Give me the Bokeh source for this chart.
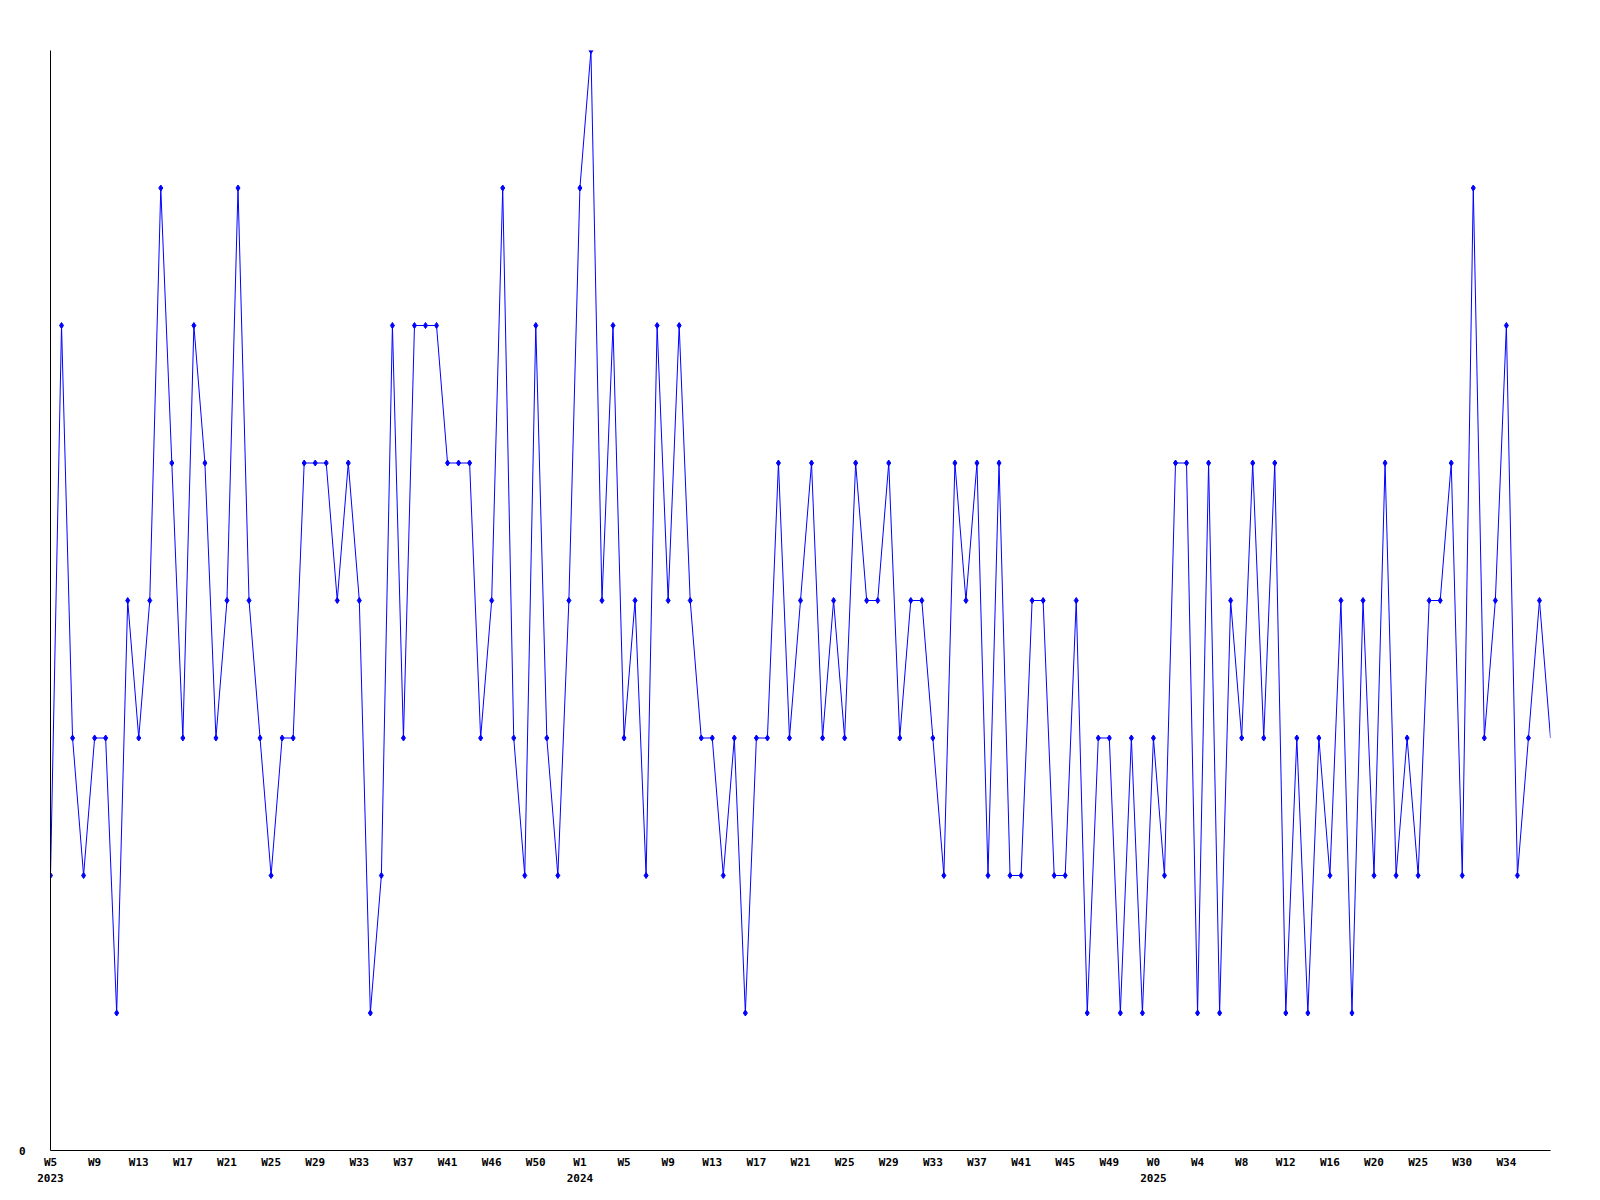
from bokeh.plotting import figure
from bokeh.models import Range1d, LinearAxis, FixedTicker, ColumnDataSource
from bokeh.embed import file_html
from bokeh.resources import INLINE

values = [2, 6, 3, 2, 3, 3, 1, 4, 3, 4, 7, 5, 3, 6, 5, 3, 4, 7, 4, 3,
          2, 3, 3, 5, 5, 5, 4, 5, 4, 1, 2, 6, 3, 6, 6, 6, 5, 5, 5, 3,
          4, 7, 3, 2, 6, 3, 2, 4, 7, 8, 4, 6, 3, 4, 2, 6, 4, 6, 4, 3,
          3, 2, 3, 1, 3, 3, 5, 3, 4, 5, 3, 4, 3, 5, 4, 4, 5, 3, 4, 4,
          3, 2, 5, 4, 5, 2, 5, 2, 2, 4, 4, 2, 2, 4, 1, 3, 3, 1, 3, 1,
          3, 2, 5, 5, 1, 5, 1, 4, 3, 5, 3, 5, 1, 3, 1, 3, 2, 4, 1, 4,
          2, 5, 2, 3, 2, 4, 4, 5, 2, 7, 3, 4, 6, 2, 3, 4, 3]
idx = list(range(len(values)))

week_labels = ["W5", "W9", "W13", "W17", "W21", "W25", "W29", "W33", "W37", "W41",
               "W46", "W50", "W1", "W5", "W9", "W13", "W17", "W21", "W25", "W29",
               "W33", "W37", "W41", "W45", "W49", "W0", "W4", "W8", "W12", "W16",
               "W20", "W25", "W30", "W34"]
week_ticks = list(range(0, 4 * len(week_labels), 4))
year_labels = ["2023", "2024", "2025"]
year_ticks = [0, 48, 100]

FONT = "DejaVu Sans Mono"

p = figure(frame_width=1500, frame_height=1100, output_backend="svg",
           toolbar_location=None, x_axis_type=None, y_axis_type=None,
           min_border_left=50, min_border_top=50, min_border_right=34,
           min_border_bottom=34)
p.x_range = Range1d(0, len(values) - 1)
p.y_range = Range1d(0, 8)
p.outline_line_color = None
p.grid.visible = False
p.background_fill_color = "white"
p.border_fill_color = "white"

src = ColumnDataSource(dict(x=idx, y=values))
mk = ColumnDataSource(dict(x=idx[:-1], y=values[:-1]))
p.line("x", "y", source=src, line_color="#0000ff", line_width=1)
p.scatter("x", "y", source=mk, marker="diamond", size=6, color="#0000ff")


def style(ax, standoff):
    ax.major_tick_line_color = None
    ax.minor_tick_line_color = None
    ax.major_tick_out = 0
    ax.major_tick_in = 0
    ax.minor_tick_out = 0
    ax.minor_tick_in = 0
    ax.major_label_standoff = standoff
    ax.major_label_text_font = FONT
    ax.major_label_text_font_style = "bold"
    ax.major_label_text_font_size = "11px"
    ax.major_label_text_color = "black"


# left axis with only "0"
ya = LinearAxis(ticker=FixedTicker(ticks=[0]))
ya.axis_line_color = "black"
ya.axis_line_width = 1
style(ya, 25)
p.add_layout(ya, "left")

xa = LinearAxis(ticker=FixedTicker(ticks=week_ticks),
                major_label_overrides={t: l for t, l in zip(week_ticks, week_labels)})
xa.axis_line_color = "black"
xa.axis_line_width = 1
style(xa, 5)
p.add_layout(xa, "below")

ya2 = LinearAxis(ticker=FixedTicker(ticks=year_ticks),
                 major_label_overrides={t: l for t, l in zip(year_ticks, year_labels)})
ya2.axis_line_color = None
style(ya2, 2)
p.add_layout(ya2, "below")

open("out.html", "w").write(file_html(p, INLINE))
